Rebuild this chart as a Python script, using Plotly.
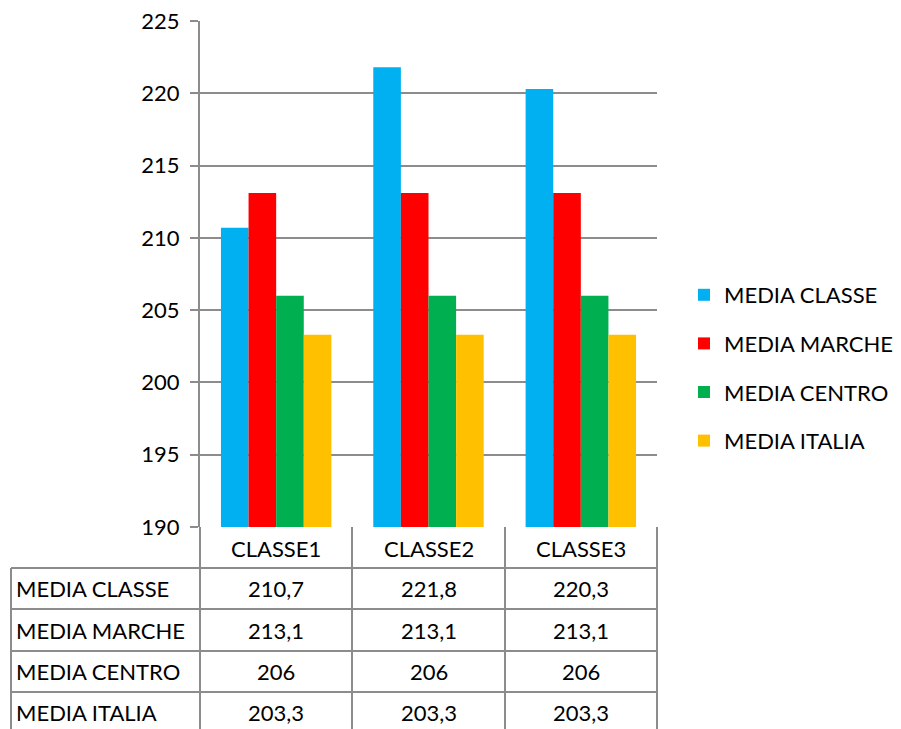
import plotly.graph_objects as go

# Chart data
categories = ["CLASSE1", "CLASSE2", "CLASSE3"]
series_names = ["MEDIA CLASSE", "MEDIA MARCHE", "MEDIA CENTRO", "MEDIA ITALIA"]
media_classe = [210.7, 221.8, 220.3]
media_marche = [213.1, 213.1, 213.1]
media_centro = [206, 206, 206]
media_italia = [203.3, 203.3, 203.3]
y_ticks = [190, 195, 200, 205, 210, 215, 220, 225]

series_values = [media_classe, media_marche, media_centro, media_italia]
colors = ["#00B0F0", "#FF0000", "#00B050", "#FFC000"]

W, H = 901, 729
ML, MR, MT, MB = 200, 244, 21, 202
PW, PH = W - ML - MR, H - MT - MB
FONT = "Lato"
FS = 22
GRID = "#8c8c8c"


def px_x(p):
    return (p - ML) / PW


def px_y(p):
    return (H - MB - p) / PH


def fmt(v):
    return f"{v:g}".replace(".", ",")


fig = go.Figure()
xs = list(range(len(categories)))
for i, (name, vals, col) in enumerate(zip(series_names, series_values, colors)):
    fig.add_trace(go.Bar(
        x=xs, y=vals, name=name, marker=dict(color=col, line=dict(width=0)),
        legendgroup=f"g{i}",
    ))

shapes = []
annotations = []

# data table grid
row_lines = [568, 609, 651, 692]
col_lines = [ML, 352, 505, ML + PW]
line_style = dict(color=GRID, width=2)
for ry in row_lines:
    shapes.append(dict(type="line", xref="paper", yref="paper",
                       x0=px_x(11), x1=px_x(ML + PW), y0=px_y(ry), y1=px_y(ry),
                       line=line_style, layer="above"))
for cx in col_lines:
    shapes.append(dict(type="line", xref="paper", yref="paper",
                       x0=px_x(cx), x1=px_x(cx), y0=px_y(H - MB), y1=px_y(H + 5),
                       line=line_style, layer="above"))
shapes.append(dict(type="line", xref="paper", yref="paper",
                   x0=px_x(11), x1=px_x(11), y0=px_y(568), y1=px_y(H + 5),
                   line=line_style, layer="above"))

txt_font = dict(family=FONT, size=FS, color="#000")

# category headers
for i, c in enumerate(categories):
    annotations.append(dict(x=i, xref="x", y=px_y(548), yref="paper", text=c,
                            showarrow=False, xanchor="center", yanchor="middle",
                            font=txt_font))

# rows of values
row_centers = [588, 630, 671, 712]
for r, (name, vals) in enumerate(zip(series_names, series_values)):
    yc = px_y(row_centers[r])
    annotations.append(dict(x=px_x(14), xref="paper", y=yc, yref="paper", text=name,
                            showarrow=False, xanchor="left", yanchor="middle",
                            font=txt_font))
    for i, v in enumerate(vals):
        annotations.append(dict(x=i, xref="x", y=yc, yref="paper", text=fmt(v),
                                showarrow=False, xanchor="center", yanchor="middle",
                                font=txt_font))

fig.update_layout(
    width=W, height=H,
    margin=dict(l=ML, r=MR, t=MT, b=MB, pad=0, autoexpand=False),
    paper_bgcolor="white", plot_bgcolor="white",
    barmode="group", bargap=0.275, bargroupgap=0,
    showlegend=True,
    legend=dict(x=px_x(684), y=px_y(368), xanchor="left", yanchor="middle",
                xref="paper", yref="paper", font=txt_font,
                tracegroupgap=17, itemwidth=30, traceorder="grouped",
                bgcolor="rgba(0,0,0,0)"),
    xaxis=dict(range=[-0.5, 2.5], showticklabels=False, ticks="", showgrid=False,
               zeroline=False, showline=False, fixedrange=True),
    yaxis=dict(range=[190, 225], tickvals=y_ticks, ticks="outside", ticklen=8,
               tickwidth=2, tickcolor=GRID, showgrid=True, gridcolor=GRID, gridwidth=2,
               showline=True, linecolor=GRID, linewidth=2, zeroline=False,
               tickfont=dict(family=FONT, size=FS, color="#000"), ticklabelstandoff=6),
    shapes=shapes, annotations=annotations,
)

fig.write_html("out.html")
